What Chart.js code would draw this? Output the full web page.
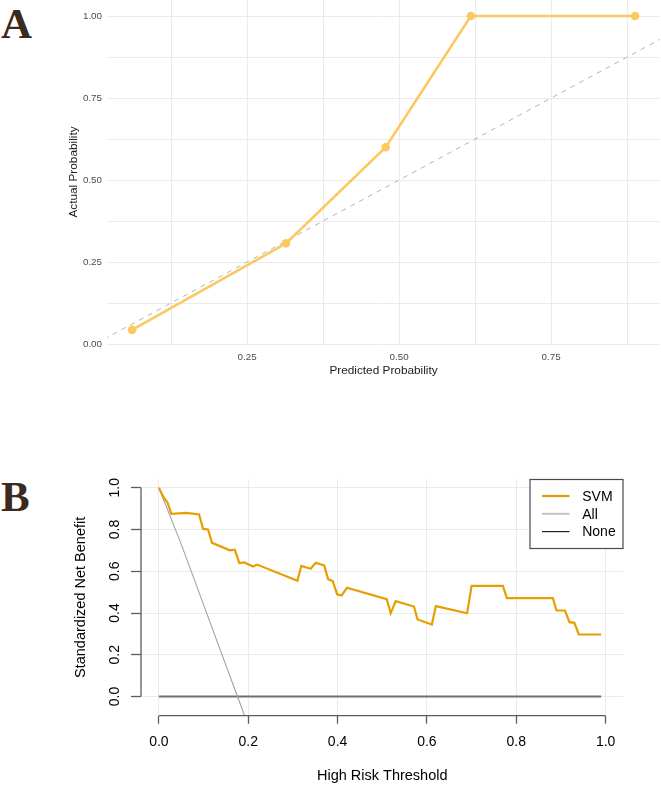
<!DOCTYPE html>
<html>
<head>
<meta charset="utf-8">
<script src="https://cdn.jsdelivr.net/npm/chart.js@4.4.1/dist/chart.umd.min.js"></script>
<style>
  html, body { margin: 0; padding: 0; background: #fff; }
  body { width: 661px; height: 786px; position: relative; overflow: hidden; }
  .tag { position: absolute; left: 1px; font-family: "Liberation Serif", "DejaVu Serif", serif; font-weight: bold; font-size: 43px; line-height: 43px; color: #3b2a1d; }
  .box { position: absolute; left: 0; width: 661px; }
  #boxA { top: 0; height: 400px; }
  #boxB { top: 440px; height: 346px; }
</style>
</head>
<body>
<div class="tag" style="top:2px">A</div>
<div class="tag" style="top:475px">B</div>
<div class="box" id="boxA"><canvas id="calib"></canvas></div>
<div class="box" id="boxB"><canvas id="dca"></canvas></div>
<script>
// panel A - calibration
const calibPred = [0.061, 0.314, 0.478, 0.618, 0.888]
const calibActual = [0.043, 0.307, 0.600, 1.0, 1.0]
const diagX = [0, 1]
const diagY = [0, 1]
const calibTicks = [0, 0.125, 0.25, 0.375, 0.5, 0.625, 0.75, 0.875, 1]
const calibLabeled = [0, 0.25, 0.5, 0.75, 1]

// panel B - decision curve
const svmThreshold = [0, 0.011, 0.019, 0.028, 0.062, 0.090, 0.099, 0.110, 0.119, 0.159, 0.170, 0.180, 0.191, 0.211, 0.220,
  0.310, 0.319, 0.340, 0.351, 0.370, 0.379, 0.389, 0.399, 0.409, 0.421, 0.510, 0.519, 0.530, 0.571, 0.579, 0.611, 0.620,
  0.690, 0.700, 0.770, 0.779, 0.882, 0.890, 0.909, 0.919, 0.930, 0.940, 0.990]
const svmBenefit = [1.0, 0.952, 0.931, 0.875, 0.880, 0.872, 0.803, 0.800, 0.736, 0.700, 0.703, 0.639, 0.642, 0.623, 0.632,
  0.554, 0.626, 0.612, 0.641, 0.628, 0.561, 0.554, 0.489, 0.484, 0.521, 0.466, 0.399, 0.457, 0.431, 0.369, 0.345, 0.433,
  0.399, 0.530, 0.530, 0.471, 0.471, 0.412, 0.412, 0.356, 0.353, 0.297, 0.297]
const allThreshold = [0, 0.05, 0.10, 0.15, 0.176, 0.195]
const allBenefit = [1.0, 0.73, 0.44, 0.15, 0.0, -0.11]
const noneThreshold = [0, 0.99]
const noneBenefit = [0, 0]
const dcaTicks = [0, 0.2, 0.4, 0.6, 0.8, 1.0]
const dcaLabels = ['SVM', 'All', 'None']

const toPoints = (xs, ys) => xs.map((x, i) => ({ x: x, y: ys[i] }))

const sans = '"Liberation Sans", Arial, sans-serif'

function fixBox(size) {
  return function (scale) {
    if (scale.isHorizontal()) scale.height = size
    else scale.width = size
    scale.paddingLeft = 0
    scale.paddingRight = 0
    scale.paddingTop = 0
    scale.paddingBottom = 0
  }
}
function useTicks(list) {
  return function (scale) {
    scale.ticks = list.filter(v => v >= scale.min && v <= scale.max).map(v => ({ value: v }))
  }
}

// ---------- A ----------
const calibColor = '#FCC860'
new Chart(document.getElementById('calib'), {
  type: 'line',
  data: {
    datasets: [
      {
        data: toPoints(calibPred, calibActual),
        borderColor: calibColor,
        backgroundColor: calibColor,
        borderWidth: 2.6,
        pointRadius: 4.3,
        pointBorderWidth: 0,
        pointBackgroundColor: calibColor,
        tension: 0,
        clip: 8,
      },
      {
        data: toPoints(diagX, diagY),
        borderColor: '#b3b3b3',
        borderWidth: 1,
        borderDash: [5, 5],
        pointRadius: 0,
      },
    ],
  },
  options: {
    responsive: true,
    maintainAspectRatio: false,
    animation: false,
    layout: { autoPadding: false, padding: { top: 0, right: 1, bottom: 0, left: 0 } },
    plugins: { legend: { display: false }, tooltip: { enabled: false } },
    scales: {
      x: {
        type: 'linear',
        min: 0.0197,
        max: 0.929,
        afterBuildTicks: useTicks(calibTicks),
        afterFit: fixBox(56),
        grid: { color: '#ebebeb', drawTicks: false },
        border: { display: false },
        ticks: {
          padding: 7,
          color: '#4d4d4d',
          font: { family: sans, size: 9.8 },
          callback: v => calibLabeled.includes(v) ? v.toFixed(2) : '',
        },
        title: { display: true, text: 'Predicted Probability', color: '#1a1a1a', font: { family: sans, size: 11.8 }, padding: { top: 0, bottom: 22 } },
      },
      y: {
        type: 'linear',
        min: 0,
        max: 1.049,
        afterBuildTicks: useTicks(calibTicks),
        afterFit: fixBox(107),
        grid: { color: '#ebebeb', drawTicks: false },
        border: { display: false },
        ticks: {
          padding: 5,
          color: '#4d4d4d',
          font: { family: sans, size: 9.8 },
          callback: v => calibLabeled.includes(v) ? v.toFixed(2) : '',
        },
        title: { display: true, text: 'Actual Probability', color: '#1a1a1a', font: { family: sans, size: 11.8 }, padding: { top: 67, bottom: 0 } },
      },
    },
  },
})

// ---------- B ----------
// axis lines only over the tick range, like base R
const baseAxes = {
  id: 'baseAxes',
  afterDatasetsDraw(chart) {
    const { ctx, chartArea, scales } = chart
    const first = dcaTicks[0]
    const last = dcaTicks[dcaTicks.length - 1]
    ctx.save()
    ctx.strokeStyle = '#5c5c5c'
    ctx.lineWidth = 1.3
    ctx.beginPath()
    ctx.moveTo(chartArea.left, scales.y.getPixelForValue(first))
    ctx.lineTo(chartArea.left, scales.y.getPixelForValue(last))
    ctx.moveTo(scales.x.getPixelForValue(first), chartArea.bottom)
    ctx.lineTo(scales.x.getPixelForValue(last), chartArea.bottom)
    ctx.stroke()
    ctx.restore()
  },
}

const dcaLegend = {
  id: 'dcaLegend',
  afterDatasetsDraw(chart) {
    const { ctx, chartArea } = chart
    const w = 94
    const h = 70
    const x0 = chartArea.right - w
    const y0 = chartArea.top
    ctx.save()
    ctx.fillStyle = '#fff'
    ctx.fillRect(x0, y0, w, h)
    ctx.strokeStyle = '#4a4a4a'
    ctx.lineWidth = 1.2
    ctx.strokeRect(x0 + 0.5, y0 + 0.5, w - 1, h - 1)
    ctx.font = '14px ' + sans
    ctx.textBaseline = 'middle'
    chart.data.datasets.forEach((ds, i) => {
      const yy = y0 + 17 + i * 17.8
      ctx.strokeStyle = ds.legendColor
      ctx.lineWidth = ds.legendWidth
      ctx.beginPath()
      ctx.moveTo(x0 + 12.5, yy)
      ctx.lineTo(x0 + 40, yy)
      ctx.stroke()
      ctx.fillStyle = '#000'
      ctx.fillText(ds.label, x0 + 52.7, yy + 1)
    })
    ctx.restore()
  },
}

new Chart(document.getElementById('dca'), {
  type: 'line',
  data: {
    datasets: [
      { label: dcaLabels[0], data: toPoints(svmThreshold, svmBenefit), borderColor: '#E69F00', borderWidth: 2.2, legendColor: '#E69F00', legendWidth: 2.2, pointRadius: 0, tension: 0 },
      { label: dcaLabels[1], data: toPoints(allThreshold, allBenefit), borderColor: '#a3a3a3', borderWidth: 1.1, legendColor: '#c4c4c4', legendWidth: 2, pointRadius: 0, tension: 0 },
      { label: dcaLabels[2], data: toPoints(noneThreshold, noneBenefit), borderColor: '#6f6f6f', borderWidth: 2, legendColor: '#222', legendWidth: 1.2, pointRadius: 0, tension: 0 },
    ],
  },
  plugins: [baseAxes, dcaLegend],
  options: {
    responsive: true,
    maintainAspectRatio: false,
    animation: false,
    layout: { autoPadding: false, padding: { top: 39, right: 37.5, bottom: 0, left: 0 } },
    plugins: { legend: { display: false }, tooltip: { enabled: false } },
    scales: {
      x: {
        type: 'linear',
        min: -0.04,
        max: 1.04,
        afterBuildTicks: useTicks(dcaTicks),
        afterFit: fixBox(70.3),
        grid: { color: '#ebebeb', tickColor: '#5c5c5c', tickLength: 8, tickWidth: 1.3 },
        border: { display: false },
        ticks: {
          padding: 10,
          color: '#000',
          font: { family: sans, size: 14 },
          callback: v => v.toFixed(1),
        },
        title: { display: true, text: 'High Risk Threshold', color: '#000', font: { family: sans, size: 14.5 }, padding: { top: 0, bottom: 1 } },
      },
      y: {
        type: 'linear',
        min: -0.092,
        max: 1.042,
        afterBuildTicks: useTicks(dcaTicks),
        afterFit: fixBox(141),
        grid: { color: '#ebebeb', tickColor: '#5c5c5c', tickLength: 10, tickWidth: 1.3 },
        border: { display: false },
        ticks: {
          padding: 6,
          minRotation: 90,
          maxRotation: 90,
          crossAlign: 'center',
          color: '#000',
          font: { family: sans, size: 14 },
          callback: v => v.toFixed(1),
        },
        title: { display: true, text: 'Standardized Net Benefit', color: '#000', font: { family: sans, size: 14.5 }, padding: { top: 72, bottom: 0 } },
      },
    },
  },
})
</script>
</body>
</html>
